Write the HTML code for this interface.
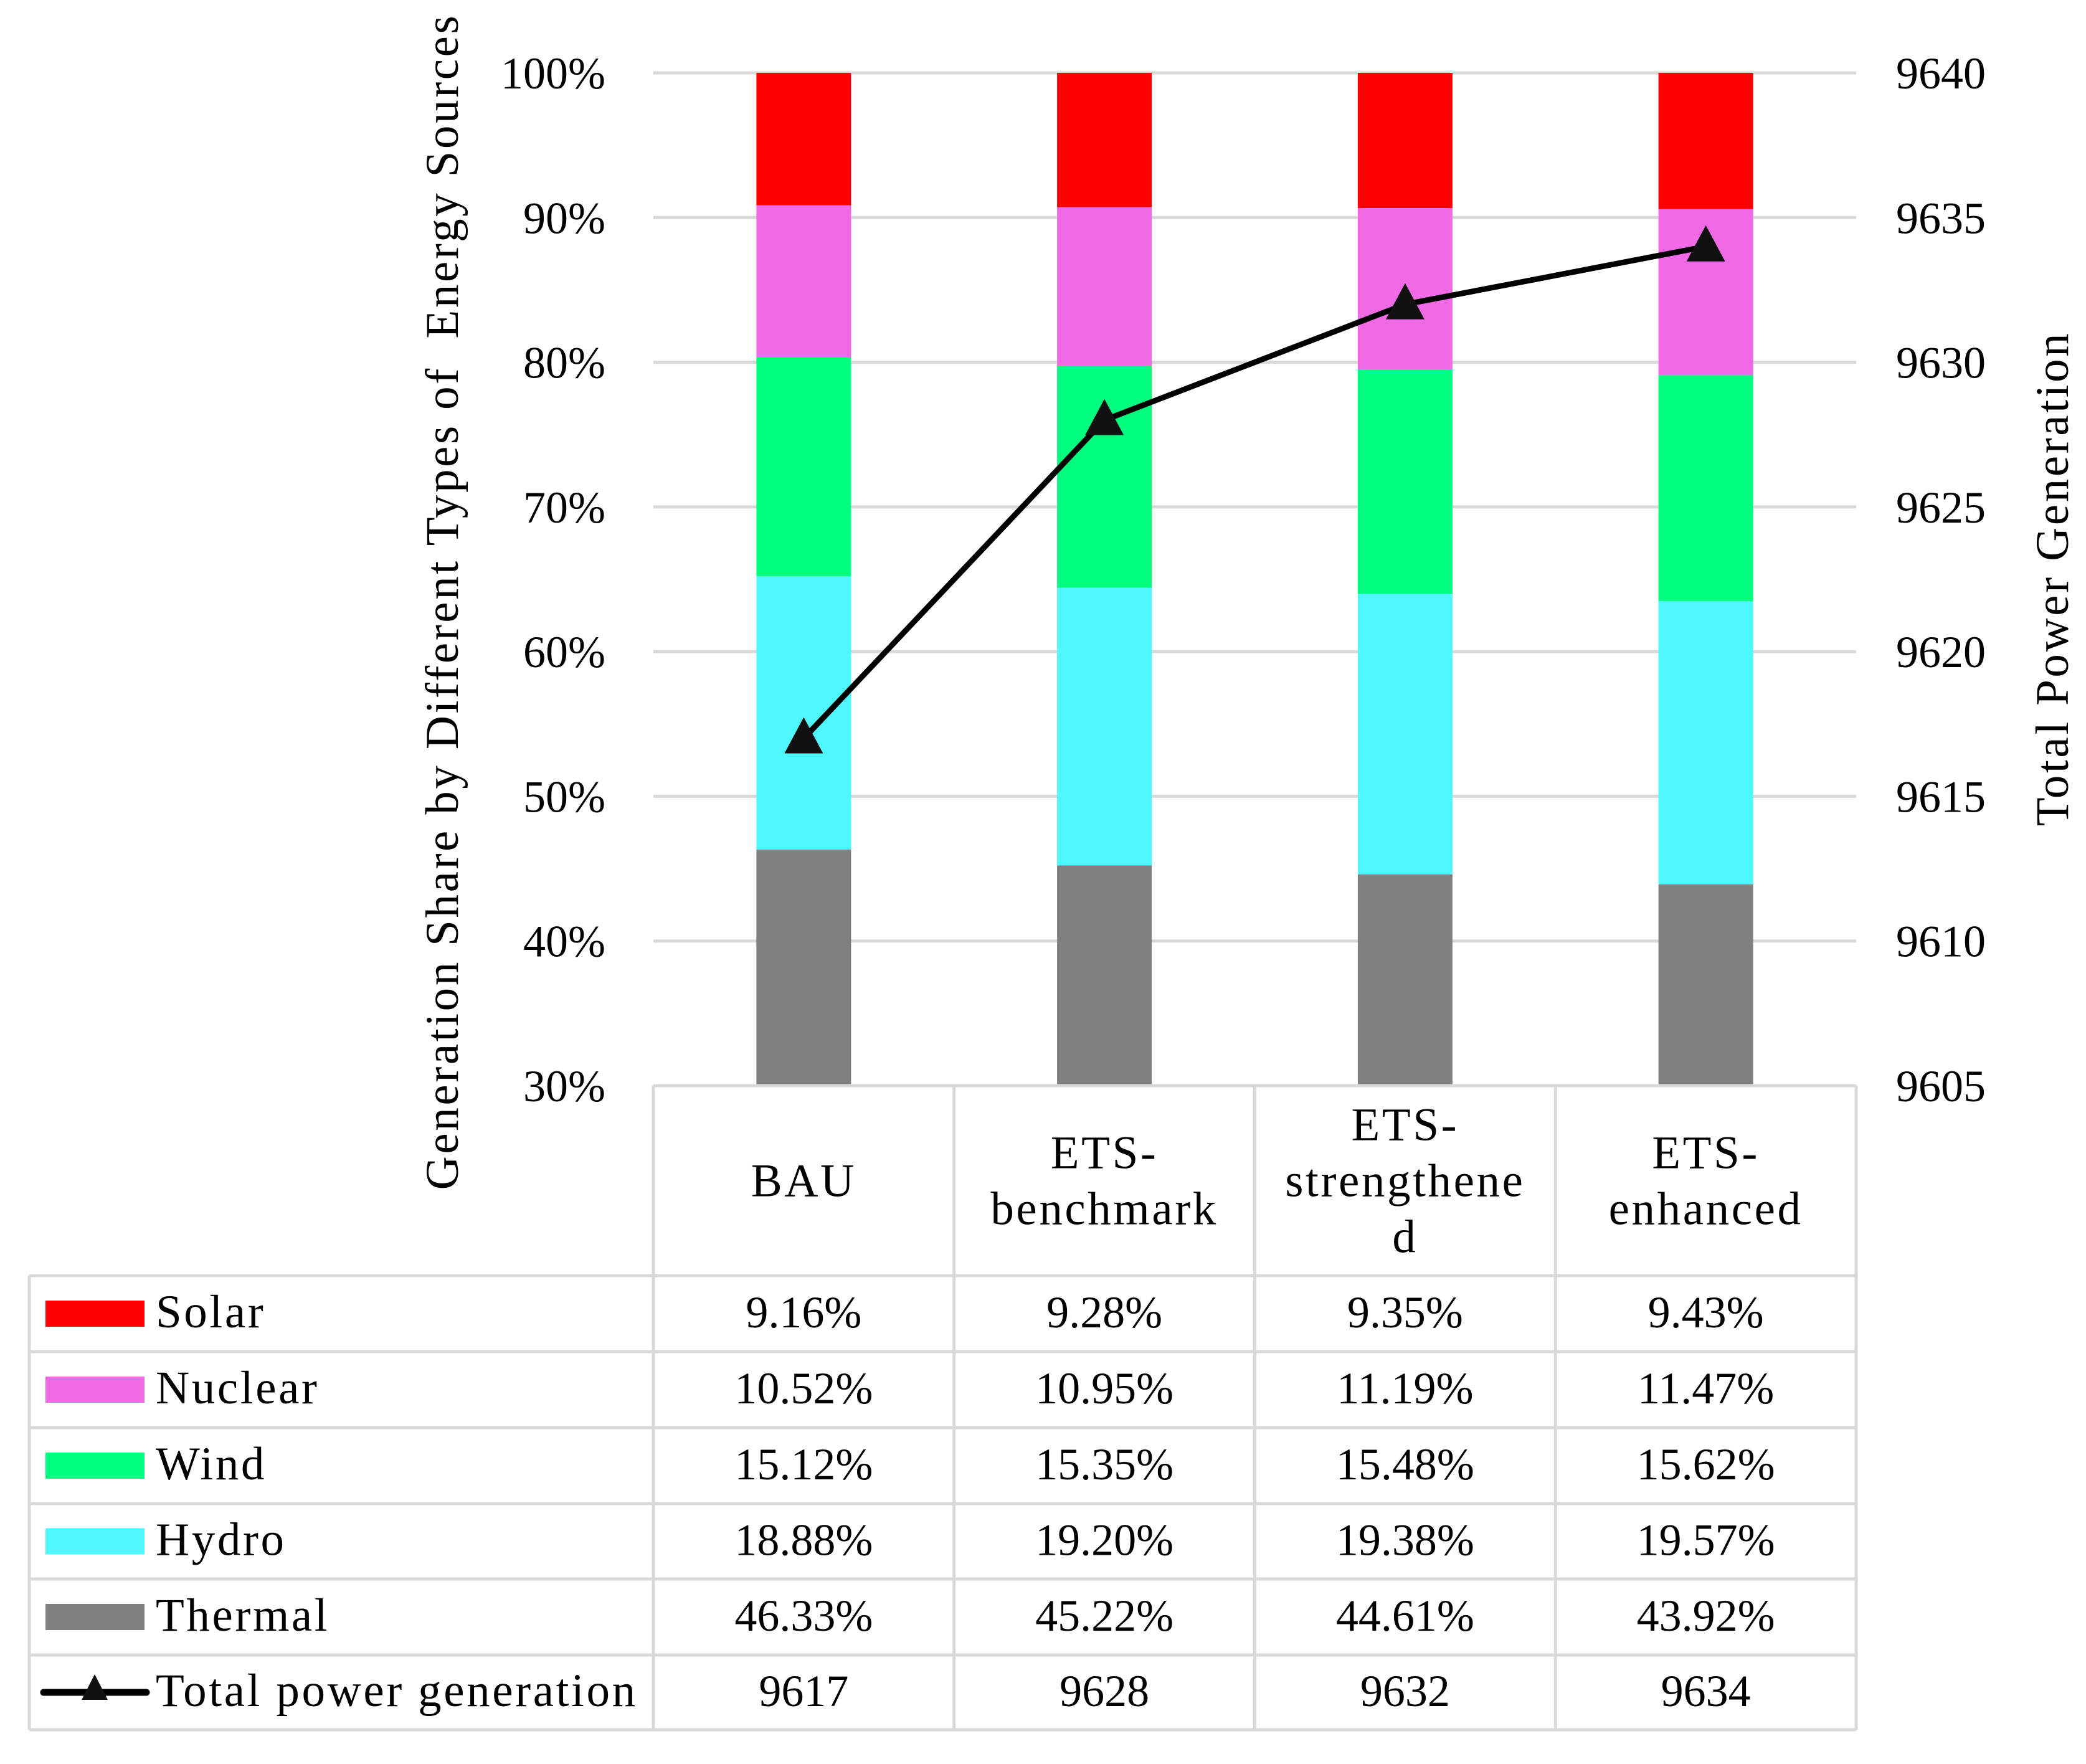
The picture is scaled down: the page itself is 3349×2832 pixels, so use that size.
<!DOCTYPE html>
<html><head><meta charset="utf-8"><style>
html,body{margin:0;padding:0;background:#fff;}
svg text{font-family:"Liberation Serif",serif;fill:#000;white-space:pre;}
svg text.word{letter-spacing:3.6px;font-size:75px;}
</style></head><body>
<svg id="chart" width="3349" height="2827" viewBox="0 0 3349 2827" xmlns="http://www.w3.org/2000/svg"></svg>
<script>
const categories = [["BAU"],["ETS-","benchmark"],["ETS-","strengthene","d"],["ETS-","enhanced"]];
const seriesNames = ["Solar","Nuclear","Wind","Hydro","Thermal"];
const thermal = [46.33,45.22,44.61,43.92];
const hydro = [18.88,19.20,19.38,19.57];
const wind = [15.12,15.35,15.48,15.62];
const nuclear = [10.52,10.95,11.19,11.47];
const solar = [9.16,9.28,9.35,9.43];
const totalGen = [9617,9628,9632,9634];
const leftTicks = [30,40,50,60,70,80,90,100];
const rightTicks = [9605,9610,9615,9620,9625,9630,9635,9640];

const svg = document.getElementById('chart');
const NS = 'http://www.w3.org/2000/svg';
function mk(tag, attrs, parent){const e=document.createElementNS(NS,tag);for(const k in attrs)e.setAttribute(k,attrs[k]);(parent||svg).appendChild(e);return e;}

const plotL=1049, plotR=2980, plotT=117, plotB=1743;
const colW=(plotR-plotL)/4;
const yL=v=>plotB-(v-30)/70*(plotB-plotT);
const yR=v=>plotB-(v-9605)/35*(plotB-plotT);
const xC=i=>plotL+colW*(i+0.5);
const grid='#d9d9d9';
const FS=72;

leftTicks.forEach((t,i)=>{
  if(t>30){const g=mk('line',{x1:plotL,x2:plotR,y1:yL(t),y2:yL(t),stroke:grid,'stroke-width':5});
  
  }
  const tx=mk('text',{x:972,y:yL(t)+25,'text-anchor':'end','font-size':FS});
  tx.textContent=t+'%';
  
  
});
rightTicks.forEach(t=>{
  const tx=mk('text',{x:3044,y:yR(t)+25,'font-size':FS});
  tx.textContent=t;
  
  
});

const colors={Solar:'#ff0000',Nuclear:'#f06ae6',Wind:'#00ff7f',Hydro:'#4ff8ff',Thermal:'#808080'};
const stackOrder=[["Thermal",thermal],["Hydro",hydro],["Wind",wind],["Nuclear",nuclear],["Solar",solar]];
const bw=152;
categories.forEach((c,i)=>{
  let base=0;
  stackOrder.forEach(([name,arr])=>{
    const lo=Math.max(base,30), hi=Math.min(base+arr[i],100);
    base+=arr[i];
    if(hi<=lo)return;
    const r=mk('rect',{x:xC(i)-bw/2,y:yL(hi),width:bw,height:yL(lo)-yL(hi),fill:colors[name]});
    
    
  });
});

const pts=totalGen.map((v,i)=>xC(i)+','+yR(v)).join(' ');
const pl=mk('polyline',{points:pts,fill:'none',stroke:'#000','stroke-width':9,'stroke-linejoin':'round'});


totalGen.forEach((v,i)=>{
  const x=xC(i),y=yR(v);
  const m=mk('polygon',{points:`${x},${y-34} ${x-31},${y+24} ${x+31},${y+24}`,fill:'#111'});
  
  
});

const rowY=[1743,2048,2170,2292,2414,2535,2657,2777];
const tableL=47;
const colX=[plotL,plotL+colW,plotL+2*colW,plotL+3*colW,plotR];
const TL=(x1,y1,x2,y2,n)=>{const l=mk('line',{x1,y1,x2,y2,stroke:grid,'stroke-width':5});};
TL(plotL,rowY[0],plotR,rowY[0],'table-top-border');
for(let r=1;r<rowY.length;r++)TL(tableL,rowY[r],plotR,rowY[r],'table-row-border');
TL(tableL,rowY[1],tableL,rowY[7],'table-left-border');
colX.forEach(x=>TL(x,rowY[0],x,rowY[7],'table-col-border'));

categories.forEach((lines,i)=>{
  const mid=(rowY[0]+rowY[1])/2, lh=90;
  const start=mid-(lines.length-1)*lh/2;
  lines.forEach((s,k)=>{
    const t=mk('text',{x:xC(i),y:start+k*lh+25,'text-anchor':'middle','class':'word'});
    t.textContent=s;
    
    
  });
});

const rows=[["Solar",solar],["Nuclear",nuclear],["Wind",wind],["Hydro",hydro],["Thermal",thermal]];
rows.forEach(([name,arr],r)=>{
  const cy=(rowY[r+1]+rowY[r+2])/2;
  const sw=mk('rect',{x:73,y:cy-21,width:159,height:42,fill:colors[name]});
  
  
  const lt=mk('text',{x:250,y:cy+22,'class':'word'});
  lt.textContent=name;
  
  
  arr.forEach((v,i)=>{
    const t=mk('text',{x:xC(i),y:cy+22,'text-anchor':'middle','font-size':FS});
    t.textContent=v.toFixed(2)+'%';
    
    
  });
});
{
  const cy=(rowY[6]+rowY[7])/2;
  const l=mk('line',{x1:70,x2:235,y1:cy,y2:cy,stroke:'#000','stroke-width':11,'stroke-linecap':'round'});
  
  
  const m=mk('polygon',{points:`152,${cy-29} 131,${cy+12} 173,${cy+12}`,fill:'#111'});
  
  
  const lt=mk('text',{x:250,y:cy+22,'class':'word'});
  lt.textContent='Total power generation';
  
  
  totalGen.forEach((v,i)=>{
    const t=mk('text',{x:xC(i),y:cy+22,'text-anchor':'middle','font-size':FS});
    t.textContent=v;
    
    
  });
}

const lt=mk('text',{x:0,y:0,'text-anchor':'middle','class':'word',transform:'translate(735,966) rotate(-90)'});
lt.textContent='Generation Share by Different Types of  Energy Sources';


const rt=mk('text',{x:0,y:0,'text-anchor':'middle','class':'word',transform:'translate(3320,929) rotate(-90)'});
rt.textContent='Total Power Generation';


</script>
</body></html>
